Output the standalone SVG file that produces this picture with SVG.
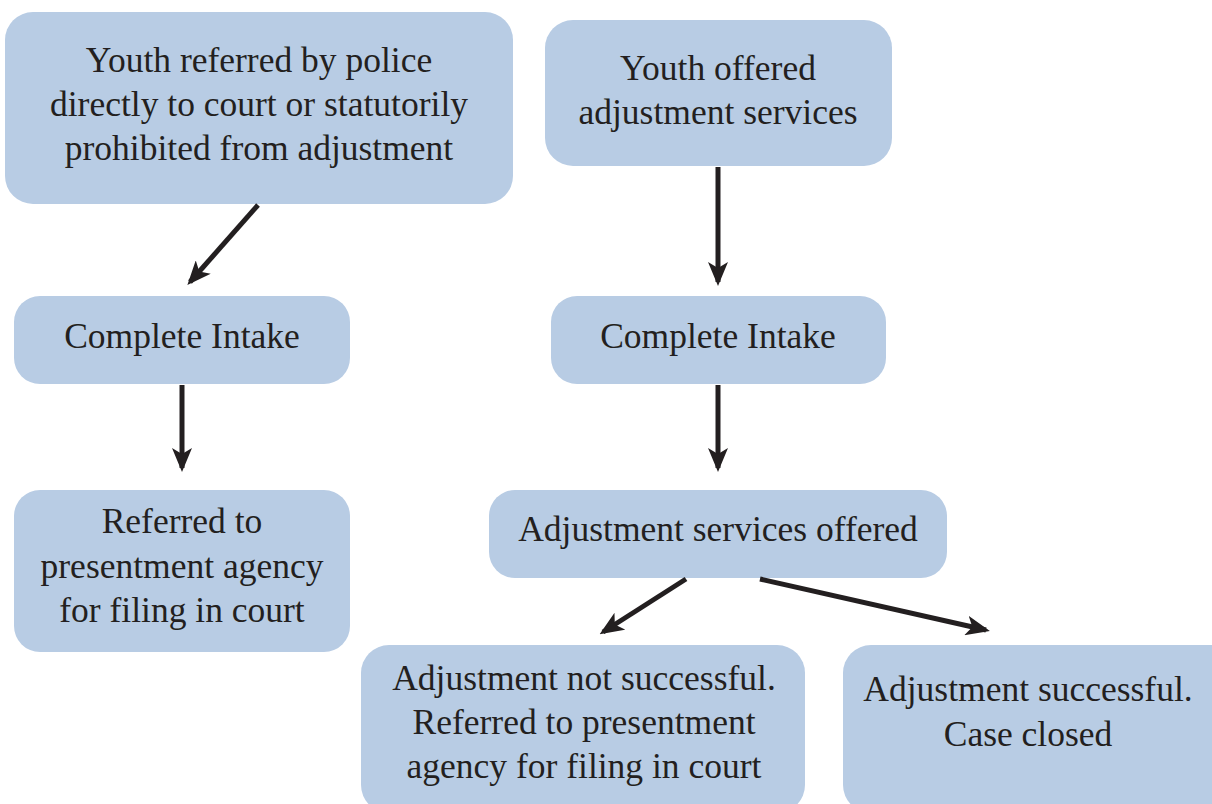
<svg xmlns="http://www.w3.org/2000/svg" width="1212" height="804" viewBox="0 0 1212 804">
<style>
.box{fill:#b8cce4}
.t{font-family:"Liberation Serif","Times New Roman",serif;font-size:35.5px;fill:#231f20;text-anchor:middle}
.c{stroke:#231f20;stroke-width:5;fill:none;marker-end:url(#ah)}
</style>
<defs>
<marker id="ah" viewBox="0 0 24 20" refX="20" refY="10" markerWidth="24" markerHeight="20" markerUnits="userSpaceOnUse" orient="auto">
<path d="M0,0 L24,10 L0,20 L6,10 Z" fill="#231f20"/>
</marker>
</defs>
<rect width="1212" height="804" fill="#ffffff"/>
<g id="n1"><rect class="box" x="5" y="12" width="508" height="192" rx="28"/>
<text class="t" x="259" y="72">Youth referred by police</text>
<text class="t" x="259" y="116">directly to court or statutorily</text>
<text class="t" x="259" y="160">prohibited from adjustment</text></g>
<g id="n2"><rect class="box" x="545" y="20" width="347" height="146" rx="28"/>
<text class="t" x="718" y="80">Youth offered</text>
<text class="t" x="718" y="124">adjustment services</text></g>
<g id="n3"><rect class="box" x="14" y="296" width="336" height="88" rx="26"/>
<text class="t" x="182" y="348">Complete Intake</text></g>
<g id="n4"><rect class="box" x="551" y="296" width="335" height="88" rx="26"/>
<text class="t" x="718" y="348">Complete Intake</text></g>
<g id="n5"><rect class="box" x="14" y="490" width="336" height="162" rx="26"/>
<text class="t" x="182" y="533">Referred to</text>
<text class="t" x="182" y="578">presentment agency</text>
<text class="t" x="182" y="622">for filing in court</text></g>
<g id="n6"><rect class="box" x="489" y="490" width="458" height="88" rx="26"/>
<text class="t" x="718" y="541">Adjustment services offered</text></g>
<g id="n7"><rect class="box" x="361" y="645" width="444" height="168" rx="28"/>
<text class="t" x="584" y="690">Adjustment not successful.</text>
<text class="t" x="584" y="734">Referred to presentment</text>
<text class="t" x="584" y="778">agency for filing in court</text></g>
<g id="n8"><rect class="box" x="843" y="645" width="400" height="168" rx="28"/>
<text class="t" x="1028" y="701">Adjustment successful.</text>
<text class="t" x="1028" y="746">Case closed</text></g>
<g id="connectors">
<path class="c" d="M258,205 L190,282"/>
<path class="c" d="M718,167 L718,282"/>
<path class="c" d="M182,385 L182,468"/>
<path class="c" d="M718,385 L718,468"/>
<path class="c" d="M686,579 L603,632"/>
<path class="c" d="M760,579 L986,630"/>
</g>
</svg>
